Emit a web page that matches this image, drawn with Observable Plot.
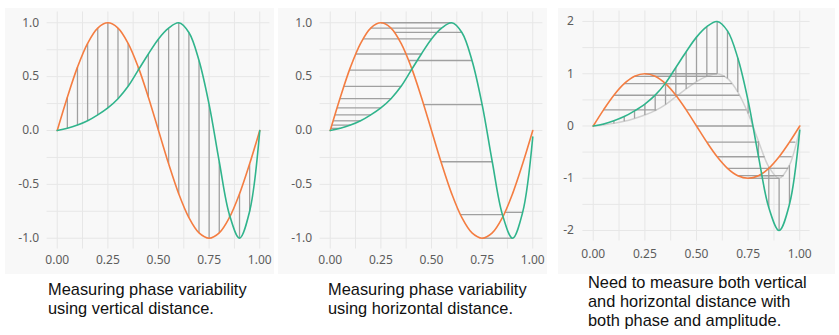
<!DOCTYPE html>
<html><head><meta charset="utf-8">
<script src="https://cdn.jsdelivr.net/npm/d3@7"></script>
<script src="https://cdn.jsdelivr.net/npm/@observablehq/plot@0.6"></script>
<style>
body{margin:0;background:#fff;}
#root{position:relative;width:839px;height:335px;overflow:hidden;background:#fff;}
.panel{position:absolute;top:8px;}
.panel svg{display:block;}
.cap{position:absolute;font-family:"Liberation Sans",Arial,sans-serif;font-size:16.4px;line-height:19px;color:#111;white-space:nowrap;}
</style></head><body><div id="root"></div>
<script>
// ---- data ----
const t = [0,0.05,0.1,0.15,0.2,0.25,0.3,0.35,0.4,0.45,0.5,0.55,0.6,0.65,0.7,0.75,0.8,0.85,0.9,0.95,1];
const orange = [0,0.309,0.588,0.809,0.951,1,0.951,0.809,0.588,0.309,0,-0.309,-0.588,-0.809,-0.951,-1,-0.951,-0.809,-0.588,-0.309,0];
const green1 = [0,0.02,0.05,0.09,0.145,0.21,0.295,0.41,0.56,0.71,0.85,0.95,1.0,0.91,0.65,0.24,-0.29,-0.78,-1.0,-0.75,0];
const green2 = [0,0.02,0.05,0.09,0.145,0.21,0.295,0.41,0.56,0.71,0.85,0.95,1.0,0.91,0.65,0.24,-0.29,-0.78,-1.0,-0.76,-0.06];
// panel 2: horizontal links from green sample (t[i]) to the orange point of equal height
const p2XOrange = [0.003,0.008,0.0143,0.0232,0.0337,0.0477,0.0672,0.0946,0.1257,0.1617,0.1995,0.25,0.318,0.387,0.461,0.547,0.642,0.75,0.864];
// panel 3
const gray3 = [0,0.02,0.05,0.09,0.145,0.21,0.295,0.41,0.56,0.71,0.85,0.95,1.0,0.91,0.65,0.24,-0.29,-0.78,-1.0,-0.75,-0.05];
const green3 = [0,0.04,0.10,0.18,0.29,0.42,0.59,0.82,1.12,1.42,1.70,1.90,2.0,1.82,1.30,0.48,-0.58,-1.56,-2.0,-1.5,-0.08];
const p3XGray = [0.306,0.409,0.485,0.55,0.6,0.638,0.672,0.708,0.742,0.773,0.802,0.83,0.853,0.876,0.9,0.922,0.944,0.961,0.979];
// ticks / grid
const xTicks = [0,0.25,0.5,0.75,1];
const xGrid = [0,0.125,0.25,0.375,0.5,0.625,0.75,0.875,1];
const y1Ticks = [-1,-0.5,0,0.5,1];
const y1Grid = [-1,-0.75,-0.5,-0.25,0,0.25,0.5,0.75,1];
const y3Ticks = [-2,-1,0,1,2];
const y3Grid = [-2,-1.5,-1,-0.5,0,0.5,1,1.5,2];
const captions = [
  ["Measuring phase variability","using vertical distance."],
  ["Measuring phase variability","using horizontal distance."],
  ["Need to measure both vertical","and horizontal distance with","both phase and amplitude."]
];

const ORANGE = "#f47d41", GREEN = "#30b48c", SEG = "#a0a0a0", LIGHT = "#d0d0d0", BG = "#f8f8f8", GRID = "#e7e7e7";
const root = document.getElementById("root");
const inner = [...t.keys()].slice(1, 20);

function curve(ys, stroke, w = 1.6) {
  return Plot.line(t.map((x, i) => ({x, y: ys[i]})), {x: "x", y: "y", stroke, strokeWidth: w, curve: "catmull-rom"});
}

function panel({left, width, height, mL, mR, mT, mB, yDomain, yTicks, yGrid, yFmt, padX, padY, marks}) {
  const svg = Plot.plot({
    width, height, marginLeft: mL, marginRight: mR, marginTop: mT, marginBottom: mB,
    style: {background: BG, fontFamily: "Noto Sans", fontSize: "12px", color: "#5d5d5d", overflow: "visible"},
    x: {domain: [-0.05, 1.05], ticks: xTicks, tickFormat: d => d.toFixed(2), tickSize: 0, tickPadding: padX, label: null},
    y: {domain: yDomain, ticks: yTicks, tickFormat: yFmt, tickSize: 0, tickPadding: padY, label: null},
    marks: [Plot.ruleX(xGrid, {stroke: GRID}), Plot.ruleY(yGrid, {stroke: GRID}), ...marks]
  });
  const d = document.createElement("div");
  d.className = "panel";
  d.style.left = left + "px";
  d.appendChild(svg);
  root.appendChild(d);
}

// Panel 1: vertical distance
panel({left: 5, width: 269, height: 266, mL: 41.6, mR: 4.6, mT: 3.5, mB: 25.5,
  yDomain: [-1.1, 1.1], yTicks: y1Ticks, yGrid: y1Grid, yFmt: d => d.toFixed(1), padX: 6, padY: 8,
  marks: [
    Plot.link(inner, {x1: i => t[i], y1: i => orange[i], x2: i => t[i], y2: i => green1[i], stroke: SEG, strokeWidth: 1.3}),
    curve(orange, ORANGE), curve(green1, GREEN)
  ]});

// Panel 2: horizontal distance
panel({left: 278.3, width: 269, height: 266, mL: 41.6, mR: 4.6, mT: 3.5, mB: 25.5,
  yDomain: [-1.1, 1.1], yTicks: y1Ticks, yGrid: y1Grid, yFmt: d => d.toFixed(1), padX: 6, padY: 8,
  marks: [
    Plot.link(inner, {x1: i => p2XOrange[i - 1], y1: i => green2[i], x2: i => t[i], y2: i => green2[i], stroke: SEG, strokeWidth: 1.3}),
    curve(orange, ORANGE), curve(green2, GREEN)
  ]});

// Panel 3: phase and amplitude
panel({left: 558, width: 277, height: 266, mL: 24.4, mR: 25.4, mT: 2.5, mB: 33.5,
  yDomain: [-2.2, 2.2], yTicks: y3Ticks, yGrid: y3Grid, yFmt: d => String(d), padX: 8, padY: 9,
  marks: [
    curve(gray3, LIGHT, 1.5),
    Plot.link(inner, {x1: i => t[i], y1: i => orange[i], x2: i => p3XGray[i - 1], y2: i => orange[i], stroke: SEG, strokeWidth: 1.3}),
    Plot.link(inner, {x1: i => t[i], y1: i => gray3[i], x2: i => t[i], y2: i => green3[i], stroke: SEG, strokeWidth: 1.3}),
    curve(orange, ORANGE), curve(green3, GREEN)
  ]});

// captions
const capPos = [[48, 280], [328, 280], [588, 273]];
captions.forEach((lines, k) => {
  const c = document.createElement("div");
  c.className = "cap";
  c.style.left = capPos[k][0] + "px";
  c.style.top = capPos[k][1] + "px";
  lines.forEach(s => { const l = document.createElement("div"); l.textContent = s; c.appendChild(l); });
  root.appendChild(c);
});
</script></body></html>
